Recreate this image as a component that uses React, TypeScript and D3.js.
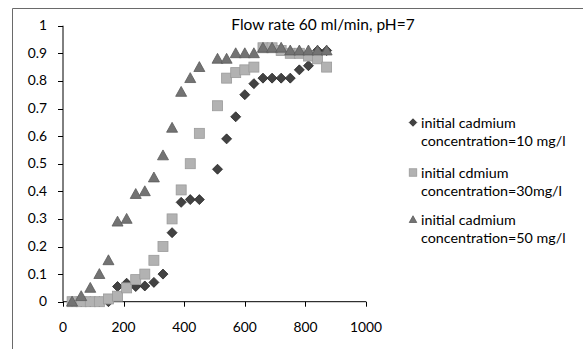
import React from "react";
import * as d3 from "d3";

const xTicks = [0, 200, 400, 600, 800, 1000];
const yTicks = [0, 0.1, 0.2, 0.3, 0.4, 0.5, 0.6, 0.7, 0.8, 0.9, 1];
const yTickLabels = ["0", "0.1", "0.2", "0.3", "0.4", "0.5", "0.6", "0.7", "0.8", "0.9", "1"];

const timeSteps = [30, 60, 90, 120, 150, 180, 210, 240, 270, 300, 330, 360, 390, 420, 450, 510, 540, 570, 600, 630, 660, 690, 720, 750, 780, 810, 840, 870];

const cd10 = [0, 0, 0, 0, 0, 0.055, 0.067, 0.055, 0.057, 0.07, 0.1, 0.25, 0.36, 0.37, 0.37, 0.48, 0.59, 0.67, 0.75, 0.79, 0.81, 0.81, 0.81, 0.81, 0.84, 0.855, 0.91, 0.91];
const cd30 = [0, 0, 0, 0, 0.01, 0.02, 0.05, 0.08, 0.1, 0.15, 0.2, 0.3, 0.405, 0.5, 0.61, 0.71, 0.81, 0.83, 0.84, 0.85, 0.92, 0.92, 0.91, 0.9, 0.9, 0.89, 0.88, 0.85];
const cd50 = [0, 0.02, 0.05, 0.1, 0.15, 0.29, 0.3, 0.39, 0.4, 0.45, 0.53, 0.63, 0.76, 0.81, 0.85, 0.88, 0.88, 0.9, 0.9, 0.9, 0.92, 0.92, 0.92, 0.91, 0.91, 0.91, 0.91, 0.91];

const titleText = "Flow rate 60 ml/min, pH=7";
const legendLines = [
  ["initial cadmium", "concentration=10 mg/l"],
  ["initial cdmium", "concentration=30mg/l"],
  ["initial cadmium", "concentration=50 mg/l"],
];

const FONT = "Lato, 'Open Sans', sans-serif";

function Marker({ kind, x, y, s }: { kind: string; x: number; y: number; s: number }) {
  if (kind === "diamond") {
    const h = s / 2 + 0.5;
    return (
      <path
        d={`M${x},${y - h}L${x + h},${y}L${x},${y + h}L${x - h},${y}Z`}
        fill="#424242"
        stroke="#262626"
        strokeWidth={0.8}
      />
    );
  }
  if (kind === "square") {
    const h = s / 2;
    return <rect x={x - h} y={y - h} width={s} height={s} fill="#b2b2b2" stroke="#9a9a9a" strokeWidth={0.8} />;
  }
  const h = s / 2;
  return (
    <path
      d={`M${x},${y - h}L${x + h},${y + h * 0.8}L${x - h},${y + h * 0.8}Z`}
      fill="#737373"
      stroke="#5a5a5a"
      strokeWidth={0.8}
    />
  );
}

export default function App() {
  const x = d3.scaleLinear().domain([0, 1000]).range([63, 366]);
  const y = d3.scaleLinear().domain([0, 1]).range([301.7, 25.7]);

  const series = [
    { kind: "diamond", values: cd10 },
    { kind: "square", values: cd30 },
    { kind: "triangle", values: cd50 },
  ];

  const legendY = [123, 173, 220];

  return (
    <svg
      width={583}
      height={349}
      style={{ position: "fixed", left: 0, top: 0, background: "#fff", display: "block" }}
      fontFamily={FONT}
    >
      <rect x={0} y={0} width={583} height={349} fill="#fff" />
      <line x1={12.5} x2={583} y1={8.5} y2={8.5} stroke="#6a6a6a" strokeWidth={1} />
      <line x1={12.5} x2={12.5} y1={8.5} y2={349} stroke="#6a6a6a" strokeWidth={1} />

      <text x={323} y={30} textAnchor="middle" fontSize={15.5} fill="#000">
        {titleText}
      </text>

      {/* axes */}
      <line x1={x(0)} x2={x(0)} y1={y(1)} y2={y(0)} stroke="#000" strokeWidth={1} />
      <line x1={x(0)} x2={x(1000)} y1={y(0)} y2={y(0)} stroke="#000" strokeWidth={1} />
      {yTicks.map((t, i) => (
        <g key={"y" + i}>
          <line x1={x(0) - 5} x2={x(0)} y1={Math.round(y(t)) + 0.5} y2={Math.round(y(t)) + 0.5} stroke="#000" />
          <text x={47} y={y(t) + 4.5} textAnchor="end" fontSize={13.8} fill="#000">
            {yTickLabels[i]}
          </text>
        </g>
      ))}
      {xTicks.map((t) => (
        <g key={"x" + t}>
          <line x1={Math.round(x(t)) + 0.5} x2={Math.round(x(t)) + 0.5} y1={y(0)} y2={y(0) + 5} stroke="#000" />
          <text x={x(t)} y={331.5} textAnchor="middle" fontSize={13.8} fill="#000">
            {t}
          </text>
        </g>
      ))}

      {/* data */}
      {series.map((s) => (
        <g key={s.kind}>
          {timeSteps.map((tt, i) => (
            <Marker key={i} kind={s.kind} x={x(tt)} y={y(s.values[i])} s={s.kind === "square" ? 10 : s.kind === "diamond" ? 9 : 11} />
          ))}
        </g>
      ))}

      {/* legend */}
      {series.map((s, i) => (
        <g key={"lg" + i}>
          <Marker kind={s.kind} x={413} y={legendY[i] - 0.5} s={s.kind === "diamond" ? 6.5 : 7.5} />
          <text x={421} y={legendY[i] + 5} fontSize={14.3} fill="#000">
            {legendLines[i][0]}
          </text>
          <text x={421} y={legendY[i] + 22.5} fontSize={14.3} fill="#000">
            {legendLines[i][1]}
          </text>
        </g>
      ))}
    </svg>
  );
}
